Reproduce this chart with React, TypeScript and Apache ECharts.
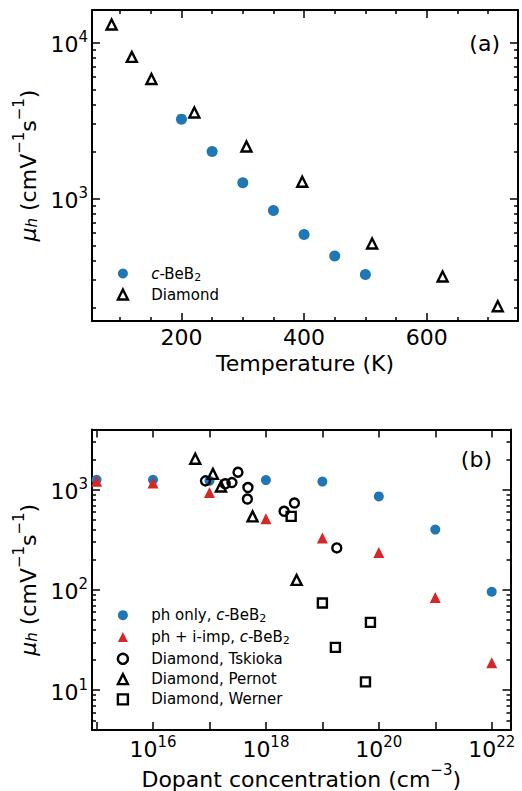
import React, { useEffect, useRef } from 'react';
import * as echarts from 'echarts';

// ---- Panel (a): mobility vs temperature ----
const tempCBeB2 = [200, 250, 300, 350, 400, 450, 500];
const muCBeB2 = [3220, 1995, 1262, 838, 588, 428, 326];
const tempDiamond = [86, 119, 151, 221, 306, 397, 511, 626, 716];
const muDiamond = [13000, 8060, 5820, 3550, 2150, 1280, 514, 316, 204];

// ---- Panel (b): mobility vs dopant concentration ----
const dopModel = [1e15, 1e16, 1e17, 1e18, 1e19, 1e20, 1e21, 1e22];
const muPhOnly = [1257, 1257, 1230, 1250, 1208, 859, 401, 96];
const muPhImp = [1220, 1170, 940, 515, 331, 237, 84, 18.8];
const dopTskioka = [8.5e16, 1.9e17, 2.5e17, 3.2e17, 4.8e17, 4.7e17, 2.1e18, 3.2e18, 1.8e19];
const muTskioka = [1228, 1148, 1181, 1497, 1054, 809, 610, 738, 263];
const dopPernot = [5.6e16, 1.15e17, 1.6e17, 5.8e17, 3.5e18];
const muPernot = [2040, 1442, 1079, 543, 126];
const dopWerner = [2.8e18, 1.0e19, 1.7e19, 7.1e19, 5.8e19];
const muWerner = [543, 74, 26.7, 47.5, 12.1];

const FONT = 'DejaVu Sans';
const BLUE = '#1f77b4';
const RED = '#d62728';

const zip = (xs: number[], ys: number[]) => xs.map((x, i) => [x, ys[i]]);

const legendNames: Record<string, string> = {
  'c-BeB2': '{i|c}{t|-BeB}{s|2}',
  Diamond: '{t|Diamond}',
  'ph only, c-BeB2': '{t|ph only, }{i|c}{t|-BeB}{s|2}',
  'ph + i-imp, c-BeB2': '{t|ph + i-imp, }{i|c}{t|-BeB}{s|2}',
  'Diamond, Tskioka': '{t|Diamond, Tskioka}',
  'Diamond, Pernot': '{t|Diamond, Pernot}',
  'Diamond, Werner': '{t|Diamond, Werner}',
};

const legendRich = {
  t: { fontFamily: FONT, fontSize: 15, color: '#000', lineHeight: 18 },
  i: { fontFamily: FONT, fontSize: 15, color: '#000', fontStyle: 'italic', lineHeight: 18 },
  s: { fontFamily: FONT, fontSize: 11, color: '#000', lineHeight: 12, verticalAlign: 'bottom' },
};

const tickRich = {
  b: { fontFamily: FONT, fontSize: 22, color: '#000', lineHeight: 26, verticalAlign: 'bottom' },
  p: { fontFamily: FONT, fontSize: 15, color: '#000', lineHeight: 15, verticalAlign: 'top' },
};

const titleRich = {
  t: { fontFamily: FONT, fontSize: 22, color: '#000', lineHeight: 28, verticalAlign: 'bottom' },
  m: { fontFamily: FONT, fontSize: 22, color: '#000', fontStyle: 'italic', lineHeight: 28, verticalAlign: 'bottom' },
  sb: { fontFamily: FONT, fontSize: 15, color: '#000', fontStyle: 'italic', lineHeight: 14, verticalAlign: 'bottom' },
  p: { fontFamily: FONT, fontSize: 15, color: '#000', lineHeight: 15, verticalAlign: 'top' },
};

const powLabel = (v: number) => {
  const e = Math.log10(v);
  const r = Math.round(e);
  if (Math.abs(e - r) > 1e-6) return '';
  return `{b|10}{p|${r}}`;
};

const lineStyle = { color: '#000', width: 2 };
const tickStyle = { color: '#000', width: 1.5 };
const hollow = { color: 'rgba(255,255,255,0)', borderColor: '#000', borderWidth: 2.4, opacity: 1 };

function App() {
  const ref = useRef<HTMLDivElement>(null);
  useEffect(() => {
    if (!ref.current) return;
    const chart = echarts.init(ref.current, null, { renderer: 'svg' });

    const baseAxis = (extra: any) => ({
      axisLine: { show: true, onZero: false, lineStyle },
      axisTick: { show: true, inside: true, length: 8, lineStyle: tickStyle },
      splitLine: { show: false },
      ...extra,
    });

    const topX = {
      type: 'value',
      gridIndex: 0,
      min: 54,
      max: 749,
      splitNumber: 3,
      minInterval: 200,
      maxInterval: 200,
      minorTick: { show: true, splitNumber: 4, length: 4, lineStyle: tickStyle },
    };
    const topY = {
      type: 'log',
      gridIndex: 0,
      min: 164,
      max: 16100,
      minorTick: { show: true, splitNumber: 9, length: 4, lineStyle: tickStyle },
    };
    const botX = {
      type: 'log',
      gridIndex: 1,
      min: 8.3e14,
      max: 2.15e22,
    };
    const botY = {
      type: 'log',
      gridIndex: 1,
      min: 4,
      max: 4000,
      minorTick: { show: true, splitNumber: 9, length: 4, lineStyle: tickStyle },
    };

    const legendCommon = {
      orient: 'vertical',
      left: 111.7,
      padding: 5,
      itemWidth: 10,
      itemHeight: 10,
      selectedMode: false,
      itemStyle: { borderWidth: 2.4 },
      formatter: (n: string) => legendNames[n] || n,
      textStyle: { fontFamily: FONT, fontSize: 15, color: '#000', rich: legendRich, padding: [0, 0, 0, 18.3] },
    };

    const option: any = {
      animation: false,
      backgroundColor: '#fff',
      textStyle: { fontFamily: FONT },
      grid: [
        { left: 92, top: 10, width: 426, height: 311 },
        { left: 92, top: 429.5, width: 418.5, height: 302 },
      ],
      xAxis: [
        baseAxis({
          ...topX,
          position: 'bottom',
          name: 'Temperature (K)',
          nameLocation: 'middle',
          nameGap: 42,
          nameTextStyle: { fontFamily: FONT, fontSize: 22, color: '#000', verticalAlign: 'middle' },
          axisLabel: {
            show: true,
            margin: 5,
            fontFamily: FONT,
            fontSize: 22,
            color: '#000',
            lineHeight: 22,
            showMinLabel: false,
            showMaxLabel: false,
            formatter: (v: number) => (v % 200 === 0 ? String(v) : ''),
          },
        }),
        baseAxis({ ...topX, position: 'top', axisLabel: { show: false } }),
        baseAxis({
          ...botX,
          position: 'bottom',
          name: '{t|Dopant concentration (cm}{p|−3}{t|)}',
          nameLocation: 'middle',
          nameGap: 46,
          nameTextStyle: { fontFamily: FONT, fontSize: 22, color: '#000', verticalAlign: 'middle', rich: titleRich },
          axisLabel: {
            show: true,
            margin: 4,
            showMinLabel: false,
            showMaxLabel: false,
            rich: tickRich,
            formatter: (v: number) => {
              const e = Math.round(Math.log10(v));
              if (Math.abs(Math.log10(v) - e) > 1e-6 || e % 2 !== 0) return '';
              return `{b|10}{p|${e}}`;
            },
          },
        }),
        baseAxis({ ...botX, position: 'top', axisLabel: { show: false } }),
      ],
      yAxis: [
        baseAxis({
          ...topY,
          position: 'left',
          name: '{m|μ}{sb|h}{t| (cmV}{p|−1}{t|s}{p|−1}{t|)}',
          nameLocation: 'middle',
          nameGap: 64,
          nameTextStyle: { fontFamily: FONT, fontSize: 22, color: '#000', verticalAlign: 'middle', rich: titleRich },
          axisLabel: { show: true, margin: 4, showMinLabel: false, showMaxLabel: false, rich: tickRich, formatter: powLabel },
        }),
        baseAxis({ ...topY, position: 'right', axisLabel: { show: false } }),
        baseAxis({
          ...botY,
          position: 'left',
          name: '{m|μ}{sb|h}{t| (cmV}{p|−1}{t|s}{p|−1}{t|)}',
          nameLocation: 'middle',
          nameGap: 64,
          nameTextStyle: { fontFamily: FONT, fontSize: 22, color: '#000', verticalAlign: 'middle', rich: titleRich },
          axisLabel: { show: true, margin: 4, showMinLabel: false, showMaxLabel: false, rich: tickRich, formatter: powLabel },
        }),
        baseAxis({ ...botY, position: 'right', axisLabel: { show: false } }),
      ],
      legend: [
        {
          ...legendCommon,
          top: 261,
          itemGap: 4.5,
          data: ['c-BeB2', 'Diamond'],
        },
        {
          ...legendCommon,
          top: 602.7,
          itemGap: 5.3,
          data: ['ph only, c-BeB2', 'ph + i-imp, c-BeB2', 'Diamond, Tskioka', 'Diamond, Pernot', 'Diamond, Werner'],
        },
      ],
      graphic: [
        {
          type: 'text',
          x: 500,
          y: 43,
          style: { text: '(a)', fontFamily: FONT, fontSize: 22, fill: '#000', textAlign: 'right', textVerticalAlign: 'middle' },
        },
        {
          type: 'text',
          x: 492,
          y: 459,
          style: { text: '(b)', fontFamily: FONT, fontSize: 22, fill: '#000', textAlign: 'right', textVerticalAlign: 'middle' },
        },
      ],
      series: [
        {
          name: 'c-BeB2',
          type: 'scatter',
          xAxisIndex: 0,
          yAxisIndex: 0,
          symbol: 'circle',
          symbolSize: 11,
          itemStyle: { color: BLUE, opacity: 1 },
          data: zip(tempCBeB2, muCBeB2),
        },
        {
          name: 'Diamond',
          type: 'scatter',
          xAxisIndex: 0,
          yAxisIndex: 0,
          symbol: 'triangle',
          symbolSize: 10,
          itemStyle: hollow,
          data: zip(tempDiamond, muDiamond),
        },
        {
          name: 'ph only, c-BeB2',
          type: 'scatter',
          xAxisIndex: 2,
          yAxisIndex: 2,
          symbol: 'circle',
          symbolSize: 10,
          itemStyle: { color: BLUE, opacity: 1 },
          data: zip(dopModel, muPhOnly),
        },
        {
          name: 'ph + i-imp, c-BeB2',
          type: 'scatter',
          xAxisIndex: 2,
          yAxisIndex: 2,
          symbol: 'triangle',
          symbolSize: 11,
          itemStyle: { color: RED, opacity: 1 },
          data: zip(dopModel, muPhImp),
        },
        {
          name: 'Diamond, Tskioka',
          type: 'scatter',
          xAxisIndex: 2,
          yAxisIndex: 2,
          symbol: 'circle',
          symbolSize: 9,
          itemStyle: hollow,
          data: zip(dopTskioka, muTskioka),
        },
        {
          name: 'Diamond, Pernot',
          type: 'scatter',
          xAxisIndex: 2,
          yAxisIndex: 2,
          symbol: 'triangle',
          symbolSize: 10,
          itemStyle: hollow,
          data: zip(dopPernot, muPernot),
        },
        {
          name: 'Diamond, Werner',
          type: 'scatter',
          xAxisIndex: 2,
          yAxisIndex: 2,
          symbol: 'rect',
          symbolSize: 9,
          itemStyle: hollow,
          data: zip(dopWerner, muWerner),
        },
      ],
    };

    chart.setOption(option);
    return () => chart.dispose();
  }, []);

  return (
    <div
      ref={ref}
      style={{ position: 'fixed', left: 0, top: 0, width: 522, height: 791, background: '#fff' }}
    />
  );
}

export default App;
